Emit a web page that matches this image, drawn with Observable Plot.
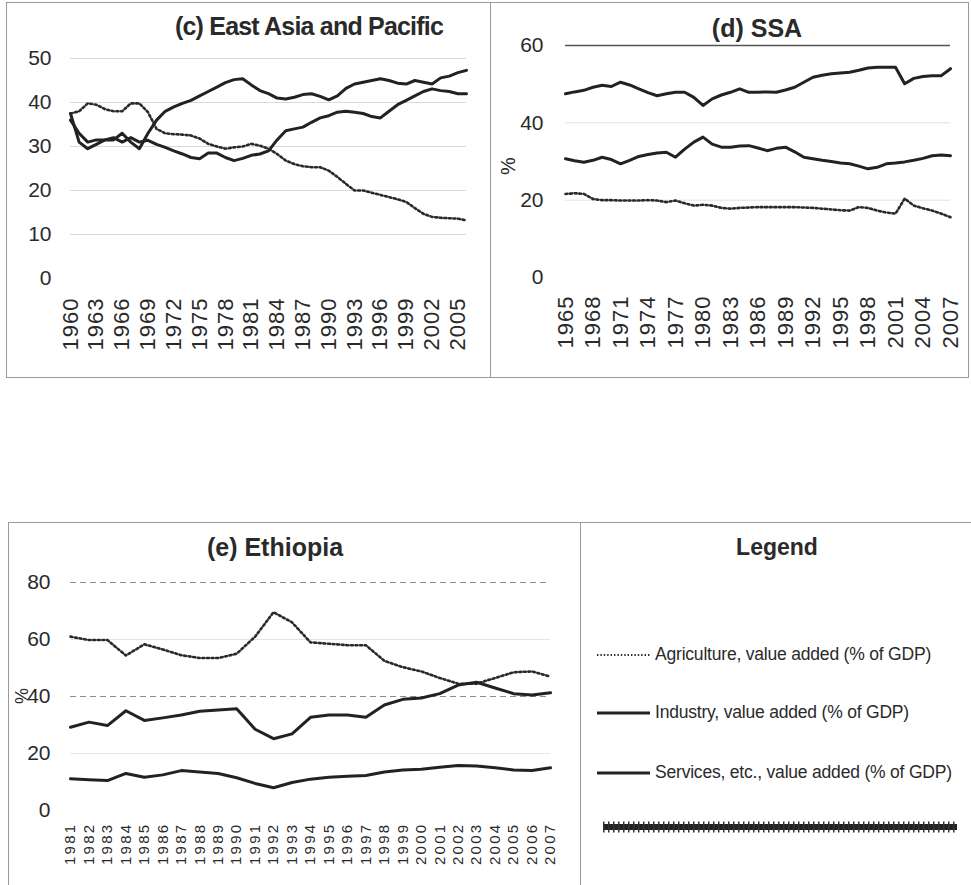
<!DOCTYPE html>
<html><head><meta charset="utf-8">
<script src="https://cdn.jsdelivr.net/npm/d3@7"></script>
<script src="https://cdn.jsdelivr.net/npm/@observablehq/plot@0.6"></script>
<style>
html,body{margin:0;padding:0;background:#fff;}
#page{position:relative;width:971px;height:885px;overflow:hidden;font-family:"Liberation Sans",Arial,sans-serif;color:#2a2a2a;}
.panel{position:absolute;border:1px solid #9a9a9a;box-sizing:border-box;}
.title{position:absolute;font-weight:bold;font-size:25px;white-space:nowrap;transform:translateX(-50%);line-height:1;}
.chart{position:absolute;}
.chart svg{overflow:visible;display:block;}
.leg{position:absolute;font-size:17.5px;white-space:nowrap;line-height:1;letter-spacing:-0.2px;}
.pct{position:absolute;font-size:20px;line-height:1;transform:rotate(-90deg);transform-origin:center;}
</style></head><body><div id="page"></div>
<script>
// ---------- (c) East Asia and Pacific ----------
const eapYears = [1960,1961,1962,1963,1964,1965,1966,1967,1968,1969,1970,1971,1972,1973,1974,1975,1976,1977,1978,1979,1980,1981,1982,1983,1984,1985,1986,1987,1988,1989,1990,1991,1992,1993,1994,1995,1996,1997,1998,1999,2000,2001,2002,2003,2004,2005,2006];
const eapAgri = [37.5,38,39.8,39.5,38.5,38,38,39.8,39.8,37.8,34,33,32.8,32.7,32.5,31.8,30.6,30,29.5,29.8,30,30.6,30.2,29.5,28.3,26.8,26,25.5,25.3,25.3,24.5,23.1,21.5,20,20,19.5,19,18.5,18,17.4,16,14.7,14,13.8,13.7,13.6,13.2];
const eapInd = [37.5,31,29.5,30.5,31.5,31.5,33,31,29.5,33,36,38,39,39.8,40.5,41.5,42.5,43.5,44.5,45.2,45.4,44,42.7,42,41,40.8,41.2,41.8,42,41.4,40.6,41.5,43.2,44.2,44.6,45,45.4,45,44.4,44.2,45,44.6,44.2,45.6,46,46.8,47.3];
const eapServ = [36,33,31,31.5,31.5,32,31,32,31,31.4,30.5,29.8,29,28.3,27.5,27.2,28.5,28.5,27.5,26.8,27.3,28,28.3,29,31.5,33.6,34,34.4,35.5,36.5,37,37.8,38,37.8,37.5,36.8,36.5,38,39.5,40.5,41.5,42.5,43.1,42.7,42.5,42,42];
const eapXTicks = [1960,1963,1966,1969,1972,1975,1978,1981,1984,1987,1990,1993,1996,1999,2002,2005];
const eapYTicks = [0,10,20,30,40,50];

// ---------- (d) SSA ----------
const ssaYears = [1965,1966,1967,1968,1969,1970,1971,1972,1973,1974,1975,1976,1977,1978,1979,1980,1981,1982,1983,1984,1985,1986,1987,1988,1989,1990,1991,1992,1993,1994,1995,1996,1997,1998,1999,2000,2001,2002,2003,2004,2005,2006,2007];
const ssaAgri = [21.6,21.8,21.6,20.3,20,20,19.9,19.9,19.9,20,19.9,19.5,19.9,19.2,18.6,18.8,18.6,18,17.8,18,18.1,18.2,18.2,18.2,18.2,18.2,18.1,18,17.8,17.6,17.4,17.3,18.2,18,17.3,16.8,16.5,20.4,18.6,17.9,17.3,16.5,15.6];
const ssaInd = [30.7,30.2,29.8,30.3,31.1,30.5,29.4,30.3,31.3,31.8,32.2,32.4,31.1,33.2,35,36.3,34.5,33.7,33.7,34,34.1,33.5,32.8,33.4,33.7,32.5,31.1,30.7,30.3,30,29.6,29.4,28.8,28.1,28.5,29.4,29.6,29.9,30.3,30.8,31.5,31.7,31.5];
const ssaServ = [47.5,48,48.4,49.2,49.7,49.4,50.5,49.8,48.8,47.8,47,47.5,47.9,47.9,46.6,44.5,46.2,47.2,47.9,48.8,47.9,47.9,48,47.9,48.5,49.2,50.5,51.8,52.3,52.7,52.9,53.1,53.6,54.2,54.4,54.4,54.4,50.1,51.5,52,52.2,52.2,54];
const ssaXTicks = [1965,1968,1971,1974,1977,1980,1983,1986,1989,1992,1995,1998,2001,2004,2007];
const ssaYTicks = [0,20,40,60];

// ---------- (e) Ethiopia ----------
const ethYears = [1981,1982,1983,1984,1985,1986,1987,1988,1989,1990,1991,1992,1993,1994,1995,1996,1997,1998,1999,2000,2001,2002,2003,2004,2005,2006,2007];
const ethAgri = [61,59.8,59.8,54.4,58.3,56.5,54.5,53.5,53.5,55,61,69.6,66,59,58.5,58,58,52.5,50.3,48.8,46.5,44.5,44.5,46.5,48.5,48.8,47];
const ethServ = [29.2,31,29.8,35,31.6,32.5,33.5,34.8,35.3,35.7,28.5,25.2,26.9,32.7,33.5,33.5,32.7,37,39,39.5,41,44,45,43,41,40.5,41.3];
const ethInd = [11.1,10.8,10.5,13,11.7,12.5,14,13.5,13,11.5,9.5,8,9.8,11,11.7,12,12.3,13.5,14.2,14.5,15.2,15.8,15.6,15,14.2,14,15];
const ethXTicks = ethYears;
const ethYTicks = [0,20,40,60,80];

// ---------- Legend ----------
const legendLabels = ["Agriculture, value added (% of GDP)", "Industry, value added (% of GDP)", "Services, etc., value added (% of GDP)"];
const panelTitles = ["(c) East Asia and Pacific", "(d) SSA", "(e) Ethiopia", "Legend"];

const FONT = '"Liberation Sans", Arial, sans-serif';
const INK = "#222";
const styles = {
  agri: {stroke: "#2a2a2a", strokeWidth: 2.6, strokeDasharray: "2,2.6"},
  ind: {stroke: INK, strokeWidth: 3},
  serv: {stroke: INK, strokeWidth: 3}
};
const toRows = (years, vals) => years.map((year, i) => ({year, value: vals[i]}));
const fmt = d => String(d);

const page = document.getElementById("page");
function addDiv(cls, css, html) {
  const d = document.createElement("div");
  d.className = cls;
  Object.assign(d.style, css);
  if (html != null) d.innerHTML = html;
  page.appendChild(d);
  return d;
}

// panel frames
addDiv("panel", {left: "6px", top: "2px", width: "485px", height: "376px"});
addDiv("panel", {left: "490px", top: "2px", width: "479px", height: "376px"});
addDiv("panel", {left: "8px", top: "522px", width: "573px", height: "380px"});
addDiv("panel", {left: "580px", top: "522px", width: "395px", height: "380px"});

function lineMarks(years, agri, ind, serv) {
  return [
    Plot.line(toRows(years, agri), {x: "year", y: "value", ...styles.agri}),
    Plot.line(toRows(years, serv), {x: "year", y: "value", ...styles.serv}),
    Plot.line(toRows(years, ind), {x: "year", y: "value", ...styles.ind})
  ];
}
function spaceTicks(svg, sp) {
  d3.select(svg).selectAll('[aria-label="x-axis tick label"] text').style("letter-spacing", sp);
}

// (c)
const plotC = Plot.plot({
  width: 484, height: 338,
  marginLeft: 64, marginRight: 24, marginTop: 18, marginBottom: 100,
  x: {domain: [eapYears[0], eapYears[eapYears.length - 1]]},
  y: {domain: [0, 50]},
  style: {fontFamily: FONT, background: "transparent", color: "#2a2a2a"},
  marks: [
    Plot.ruleY(eapYTicks.filter(v => v > 0), {stroke: "#dadada", strokeWidth: 1}),
    Plot.axisX({ticks: eapXTicks, tickFormat: fmt, tickRotate: -90, tickSize: 0, tickPadding: 19, fontSize: 22, label: null}),
    Plot.axisY({ticks: eapYTicks, tickFormat: fmt, tickSize: 0, tickPadding: 19, fontSize: 21, label: null}),
    ...lineMarks(eapYears, eapAgri, eapInd, eapServ)
  ]
});
spaceTicks(plotC, "1px");
addDiv("chart", {left: "6px", top: "40px"}).appendChild(plotC);

// (d)
const plotD = Plot.plot({
  width: 478, height: 348,
  marginLeft: 75, marginRight: 18, marginTop: 15, marginBottom: 101,
  x: {domain: [ssaYears[0], ssaYears[ssaYears.length - 1]]},
  y: {domain: [0, 60]},
  style: {fontFamily: FONT, background: "transparent", color: "#2a2a2a"},
  marks: [
    Plot.ruleY(ssaYTicks.filter(v => v > 0 && v < 60), {stroke: "#e0e0e0", strokeWidth: 1}),
    Plot.ruleY(ssaYTicks.filter(v => v === 60), {stroke: "#555", strokeWidth: 1.3}),
    Plot.axisX({ticks: ssaXTicks, tickFormat: fmt, tickRotate: -90, tickSize: 0, tickPadding: 18, fontSize: 22, label: null}),
    Plot.axisY({ticks: ssaYTicks, tickFormat: fmt, tickSize: 0, tickPadding: 22, fontSize: 21, label: null}),
    ...lineMarks(ssaYears, ssaAgri, ssaInd, ssaServ)
  ]
});
spaceTicks(plotD, "1px");
addDiv("chart", {left: "490px", top: "30px"}).appendChild(plotD);
addDiv("pct", {left: "499px", top: "156px"}, "%");

// (e)
const plotE = Plot.plot({
  width: 570, height: 320,
  marginLeft: 62, marginRight: 28, marginTop: 17, marginBottom: 75,
  x: {domain: [ethYears[0], ethYears[ethYears.length - 1]]},
  y: {domain: [0, 80]},
  style: {fontFamily: FONT, background: "transparent", color: "#2a2a2a"},
  marks: [
    Plot.ruleY(ethYTicks.filter(v => v === 20 || v === 60), {stroke: "#e4e4e4", strokeWidth: 1}),
    Plot.ruleY(ethYTicks.filter(v => v === 40 || v === 80), {stroke: "#8a8a8a", strokeWidth: 1, strokeDasharray: "6,4"}),
    Plot.axisX({ticks: ethXTicks, tickFormat: fmt, tickRotate: -90, tickSize: 0, tickPadding: 12, fontSize: 15, label: null}),
    Plot.axisY({ticks: ethYTicks, tickFormat: fmt, tickSize: 0, tickPadding: 20, fontSize: 21, label: null}),
    ...lineMarks(ethYears, ethAgri, ethInd, ethServ)
  ]
});
spaceTicks(plotE, "2.3px");
addDiv("chart", {left: "8px", top: "565px"}).appendChild(plotE);
addDiv("pct", {left: "14px", top: "687px", fontSize: "18px"}, "%");

// titles
addDiv("title", {left: "309px", top: "14px", letterSpacing: "-0.8px"}, panelTitles[0]);
addDiv("title", {left: "757px", top: "16px"}, panelTitles[1]);
addDiv("title", {left: "275px", top: "535px"}, panelTitles[2]);
addDiv("title", {left: "777px", top: "536px", fontSize: "23px"}, panelTitles[3]);

// legend
const legY = [655, 713, 773];
const legKeys = ["agri", "ind", "serv"];
let svg = `<svg width="971" height="885" style="position:absolute;left:0;top:0;overflow:visible">`;
legKeys.forEach((k, i) => {
  const s = styles[k];
  svg += `<line x1="597" x2="650" y1="${legY[i]}" y2="${legY[i]}" stroke="${s.stroke}" stroke-width="${k === "agri" ? 1.8 : 3.2}" ${s.strokeDasharray ? `stroke-dasharray="1.4,2"` : ""}/>`;
});
svg += `<line x1="603" x2="957" y1="827" y2="827" stroke="#222" stroke-width="6"/>`;
svg += `<line x1="603" x2="957" y1="827" y2="827" stroke="#333" stroke-width="11" stroke-dasharray="1.5,3.5"/>`;
svg += `</svg>`;
addDiv("chart", {left: "0px", top: "0px"}, svg);
legendLabels.forEach((t, i) => addDiv("leg", {left: "655px", top: (legY[i] - 9) + "px"}, t));
</script></body></html>
